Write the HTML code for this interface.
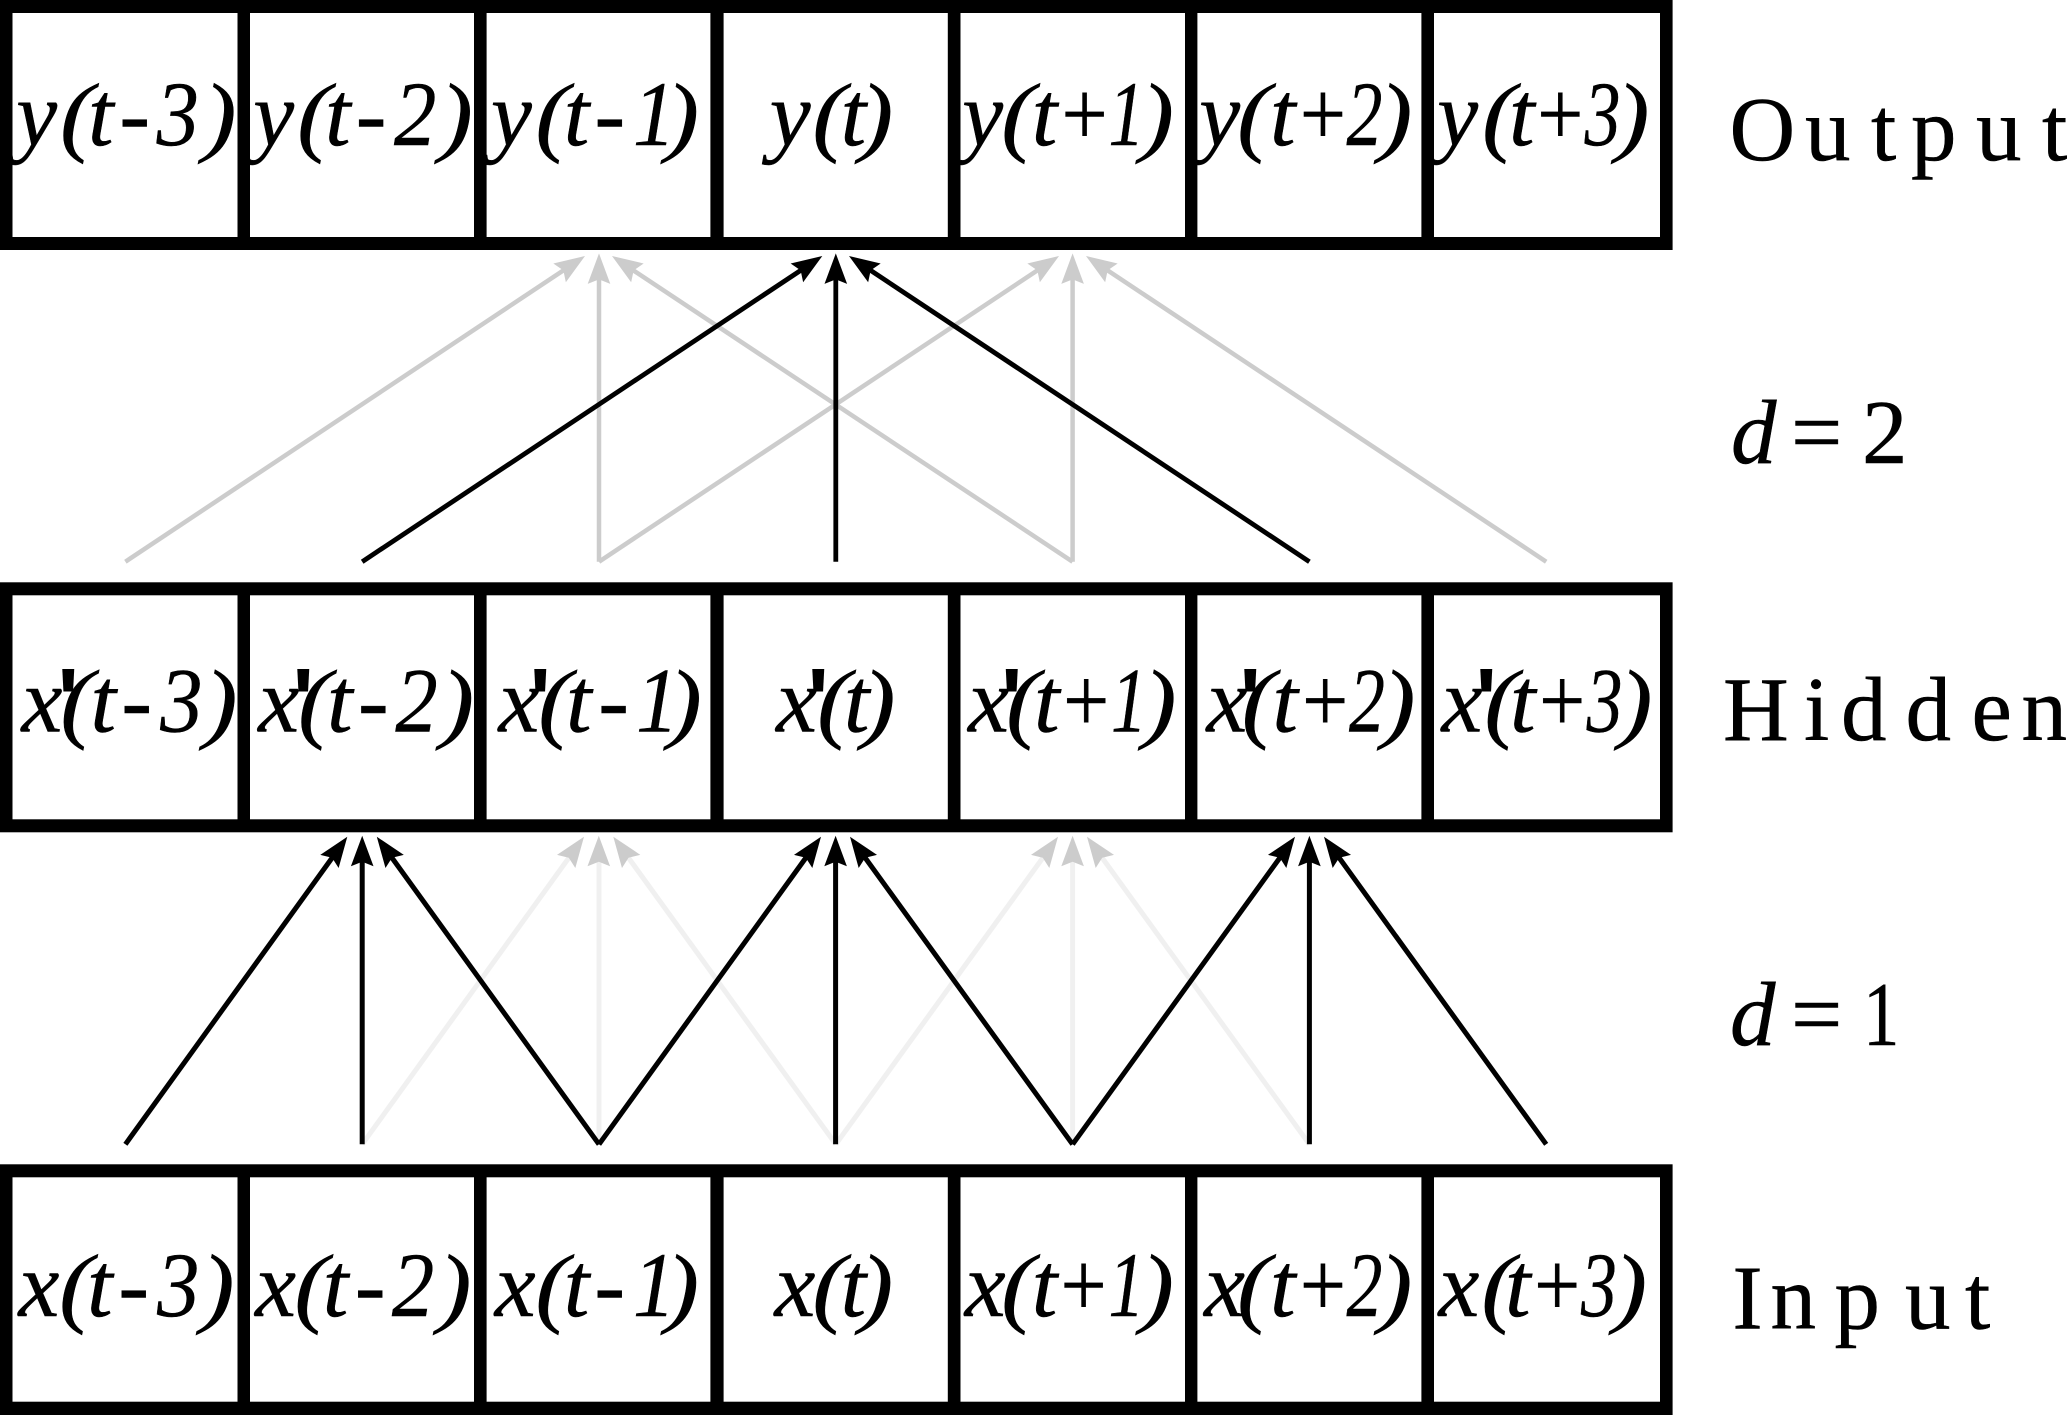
<!DOCTYPE html>
<html>
<head>
<meta charset="utf-8">
<style>
html,body{margin:0;padding:0;background:#fff;width:2067px;height:1415px;overflow:hidden}
svg{display:block}
.l text{font-family:"Liberation Serif",serif;font-style:italic;font-size:92px;fill:#000;stroke:#000;stroke-width:.5px}
.r{font-family:"Liberation Serif",serif;font-size:91px;fill:#000;stroke:#000;stroke-width:.5px}
.p{font-family:"Liberation Sans",sans-serif;font-weight:bold;font-size:90px;fill:#000}
</style>
</head>
<body>
<svg width="2067" height="1415" viewBox="0 0 2067 1415" xmlns="http://www.w3.org/2000/svg">
<defs>
<polygon id="h" points="0,0 11.3,30.5 0,26 -11.3,30.5"/>
</defs>
<rect width="2067" height="1415" fill="#fff"/>

<!-- Output row -->
<rect x="0" y="0" width="1672.6" height="250" fill="#000"/>
<g fill="#fff">
<rect x="12.5" y="13" width="225" height="224"/>
<rect x="250" y="13" width="224" height="224"/>
<rect x="486.6" y="13" width="223.8" height="224"/>
<rect x="723.6" y="13" width="224.2" height="224"/>
<rect x="960.5" y="13" width="224.5" height="224"/>
<rect x="1197.4" y="13" width="224" height="224"/>
<rect x="1434" y="13" width="226" height="224"/>
</g>
<!-- Hidden row -->
<rect x="0" y="582.3" width="1672.6" height="250" fill="#000"/>
<g fill="#fff">
<rect x="12.5" y="595.3" width="225" height="224"/>
<rect x="250" y="595.3" width="224" height="224"/>
<rect x="486.6" y="595.3" width="223.8" height="224"/>
<rect x="723.6" y="595.3" width="224.2" height="224"/>
<rect x="960.5" y="595.3" width="224.5" height="224"/>
<rect x="1197.4" y="595.3" width="224" height="224"/>
<rect x="1434" y="595.3" width="226" height="224"/>
</g>
<!-- Input row -->
<rect x="0" y="1164.3" width="1672.6" height="250.7" fill="#000"/>
<g fill="#fff">
<rect x="12.5" y="1177.3" width="225" height="224.4"/>
<rect x="250" y="1177.3" width="224" height="224.4"/>
<rect x="486.6" y="1177.3" width="223.8" height="224.4"/>
<rect x="723.6" y="1177.3" width="224.2" height="224.4"/>
<rect x="960.5" y="1177.3" width="224.5" height="224.4"/>
<rect x="1197.4" y="1177.3" width="224" height="224.4"/>
<rect x="1434" y="1177.3" width="226" height="224.4"/>
</g>

<!-- d=2 gray arrows -->
<g stroke="#ccc" stroke-width="4.5" fill="none">
<line x1="125.4" y1="561.7" x2="568.3" y2="267.1"/>
<line x1="599" y1="561.7" x2="599" y2="273"/>
<line x1="1072.6" y1="561.7" x2="628.4" y2="267.1"/>
<line x1="599" y1="561.7" x2="1042.3" y2="267.1"/>
<line x1="1072.6" y1="561.7" x2="1072.6" y2="273"/>
<line x1="1546.2" y1="561.7" x2="1102.7" y2="267.1"/>
</g>
<g fill="#ccc">
<use href="#h" transform="translate(585,256) rotate(56.4)"/>
<use href="#h" transform="translate(599,253.4)"/>
<use href="#h" transform="translate(612,256) rotate(-56.4)"/>
<use href="#h" transform="translate(1059,256) rotate(56.4)"/>
<use href="#h" transform="translate(1072.6,253.4)"/>
<use href="#h" transform="translate(1086,256) rotate(-56.4)"/>
</g>
<!-- d=2 black arrows -->
<g stroke="#000" stroke-width="4.8" fill="none">
<line x1="362.2" y1="561.7" x2="805.6" y2="267.1"/>
<line x1="835.8" y1="561.7" x2="835.8" y2="273"/>
<line x1="1309.4" y1="561.7" x2="865.7" y2="267.1"/>
</g>
<g fill="#000">
<use href="#h" transform="translate(822.3,256) rotate(56.4)"/>
<use href="#h" transform="translate(835.8,253.4)"/>
<use href="#h" transform="translate(849,256) rotate(-56.4)"/>
</g>

<!-- d=1 faint arrows -->
<g stroke="#f0f0f0" stroke-width="5" fill="none">
<line x1="362.2" y1="1144.3" x2="572.3" y2="853"/>
<line x1="599" y1="1144.3" x2="599" y2="856"/>
<line x1="835.8" y1="1144.3" x2="625" y2="853"/>
<line x1="835.8" y1="1144.3" x2="1046.3" y2="853"/>
<line x1="1072.6" y1="1144.3" x2="1072.6" y2="856"/>
<line x1="1309.4" y1="1144.3" x2="1098.7" y2="853"/>
</g>
<g fill="#ccc">
<use href="#h" transform="translate(584,836.7) rotate(35.8)"/>
<use href="#h" transform="translate(598.8,835.7)"/>
<use href="#h" transform="translate(613.3,836.7) rotate(-35.8)"/>
<use href="#h" transform="translate(1058,836.7) rotate(35.8)"/>
<use href="#h" transform="translate(1072.6,835.7)"/>
<use href="#h" transform="translate(1087,836.7) rotate(-35.8)"/>
</g>
<!-- d=1 black arrows -->
<g stroke="#000" stroke-width="5" fill="none">
<line x1="125.4" y1="1144.3" x2="335.6" y2="853"/>
<line x1="362.2" y1="1144.3" x2="362.2" y2="856"/>
<line x1="599" y1="1144.3" x2="388.5" y2="853"/>
<line x1="599" y1="1144.3" x2="809.3" y2="853"/>
<line x1="835.6" y1="1144.3" x2="835.6" y2="856"/>
<line x1="1072.6" y1="1144.3" x2="861.7" y2="853"/>
<line x1="1072.6" y1="1144.3" x2="1283.3" y2="853"/>
<line x1="1309.4" y1="1144.3" x2="1309.4" y2="856"/>
<line x1="1546.2" y1="1144.3" x2="1335.7" y2="853"/>
</g>
<g fill="#000">
<use href="#h" transform="translate(347.3,836.7) rotate(35.8)"/>
<use href="#h" transform="translate(362.2,835.7)"/>
<use href="#h" transform="translate(376.8,836.7) rotate(-35.8)"/>
<use href="#h" transform="translate(821,836.7) rotate(35.8)"/>
<use href="#h" transform="translate(835.6,835.7)"/>
<use href="#h" transform="translate(850,836.7) rotate(-35.8)"/>
<use href="#h" transform="translate(1295,836.7) rotate(35.8)"/>
<use href="#h" transform="translate(1309.4,835.7)"/>
<use href="#h" transform="translate(1324,836.7) rotate(-35.8)"/>
</g>

<!-- Output labels -->
<g class="l">
<text x="16.3" y="145">y</text><text transform="translate(60 145) scale(1.1 .97)">(</text><text y="145" x="88 119.4">t-</text><text transform="translate(156.6 145) scale(.92 1)">3</text><text transform="translate(202.8 145) scale(1.1 .97)">)</text>
<text x="253.3" y="145">y</text><text transform="translate(297.1 145) scale(1.1 .97)">(</text><text y="145" x="325 355.8">t-</text><text transform="translate(394 145) scale(.92 1)">2</text><text transform="translate(439.1 145) scale(1.1 .97)">)</text>
<text x="491" y="145">y</text><text transform="translate(535.4 145) scale(1.1 .97)">(</text><text y="145" x="563.7 594.5">t-</text><text transform="translate(633 145) scale(.92 1)">1</text><text transform="translate(665.4 145) scale(1.1 .97)">)</text>
<text x="769.7" y="145">y</text><text transform="translate(812.4 145) scale(1.1 .97)">(</text><text y="145" x="840.6">t</text><text transform="translate(859.5 145) scale(1.1 .97)">)</text>
<text x="962.3" y="145">y</text><text transform="translate(1001.2 145) scale(1.1 .97)">(</text><text y="145" x="1031.7">t</text><text transform="translate(1056.3 145) scale(.89 1)">+</text><text transform="translate(1108.5 145) scale(.78 1)">1</text><text transform="translate(1140.2 145) scale(1.1 .97)">)</text>
<text x="1199.2" y="145">y</text><text transform="translate(1237.1 145) scale(1.1 .97)">(</text><text y="145" x="1270">t</text><text transform="translate(1294.6 145) scale(.89 1)">+</text><text transform="translate(1346.5 145) scale(.78 1)">2</text><text transform="translate(1378.6 145) scale(1.1 .97)">)</text>
<text x="1437.3" y="145">y</text><text transform="translate(1482 145) scale(1.1 .97)">(</text><text y="145" x="1509">t</text><text transform="translate(1532 145) scale(.89 1)">+</text><text transform="translate(1584.6 145) scale(.78 1)">3</text><text transform="translate(1615.8 145) scale(1.1 .97)">)</text>
</g>

<!-- Hidden labels -->
<g class="l">
<text x="21.5" y="731.7">x</text><text transform="translate(60.4 731.7) scale(1.1 .97)">(</text><text y="731.7" x="90.5 121.4">t-</text><text transform="translate(160.2 731.7) scale(.92 1)">3</text><text transform="translate(203.8 731.7) scale(1.1 .97)">)</text>
<text x="258.2" y="731.7">x</text><text transform="translate(298 731.7) scale(1.1 .97)">(</text><text y="731.7" x="327 358">t-</text><text transform="translate(395.4 731.7) scale(.92 1)">2</text><text transform="translate(440.4 731.7) scale(1.1 .97)">)</text>
<text x="498.5" y="731.7">x</text><text transform="translate(538.2 731.7) scale(1.1 .97)">(</text><text y="731.7" x="566 598.2">t-</text><text transform="translate(636.1 731.7) scale(.92 1)">1</text><text transform="translate(668.1 731.7) scale(1.1 .97)">)</text>
<text x="776.1" y="731.7">x</text><text transform="translate(817.1 731.7) scale(1.1 .97)">(</text><text y="731.7" x="843.9">t</text><text transform="translate(861.8 731.7) scale(1.1 .97)">)</text>
<text x="968.1" y="731.7">x</text><text transform="translate(1006.1 731.7) scale(1.1 .97)">(</text><text y="731.7" x="1034">t</text><text transform="translate(1057.9 731.7) scale(.89 1)">+</text><text transform="translate(1111 731.7) scale(.78 1)">1</text><text transform="translate(1142.8 731.7) scale(1.1 .97)">)</text>
<text x="1206.5" y="731.7">x</text><text transform="translate(1241.8 731.7) scale(1.1 .97)">(</text><text y="731.7" x="1272.4">t</text><text transform="translate(1296.9 731.7) scale(.89 1)">+</text><text transform="translate(1349 731.7) scale(.78 1)">2</text><text transform="translate(1381.8 731.7) scale(1.1 .97)">)</text>
<text x="1441.5" y="731.7">x</text><text transform="translate(1484.4 731.7) scale(1.1 .97)">(</text><text y="731.7" x="1510">t</text><text transform="translate(1533.9 731.7) scale(.89 1)">+</text><text transform="translate(1586.6 731.7) scale(.78 1)">3</text><text transform="translate(1618.8 731.7) scale(1.1 .97)">)</text>
</g>
<g>
<text class="p" x="57.5" y="731">'</text>
<text class="p" x="292.5" y="731">'</text>
<text class="p" x="529.5" y="731">'</text>
<text class="p" x="807.5" y="731">'</text>
<text class="p" x="1001" y="731">'</text>
<text class="p" x="1239.5" y="731">'</text>
<text class="p" x="1475.5" y="731">'</text>
</g>

<!-- Input labels -->
<g class="l">
<text x="18.5" y="1316">x</text><text transform="translate(59.1 1316) scale(1.1 .97)">(</text><text y="1316" x="87 118.4">t-</text><text transform="translate(157.1 1316) scale(.92 1)">3</text><text transform="translate(200.8 1316) scale(1.1 .97)">)</text>
<text x="255.1" y="1316">x</text><text transform="translate(294.4 1316) scale(1.1 .97)">(</text><text y="1316" x="322.7 354.9">t-</text><text transform="translate(391.9 1316) scale(.92 1)">2</text><text transform="translate(437.8 1316) scale(1.1 .97)">)</text>
<text x="494.8" y="1316">x</text><text transform="translate(535.4 1316) scale(1.1 .97)">(</text><text y="1316" x="563.7 594.4">t-</text><text transform="translate(633 1316) scale(.92 1)">1</text><text transform="translate(665.4 1316) scale(1.1 .97)">)</text>
<text x="774.5" y="1316">x</text><text transform="translate(812.4 1316) scale(1.1 .97)">(</text><text y="1316" x="840.6">t</text><text transform="translate(859.5 1316) scale(1.1 .97)">)</text>
<text x="964.8" y="1316">x</text><text transform="translate(1001.2 1316) scale(1.1 .97)">(</text><text y="1316" x="1031.7">t</text><text transform="translate(1055.3 1316) scale(.89 1)">+</text><text transform="translate(1108.5 1316) scale(.78 1)">1</text><text transform="translate(1140.3 1316) scale(1.1 .97)">)</text>
<text x="1204.1" y="1316">x</text><text transform="translate(1237.1 1316) scale(1.1 .97)">(</text><text y="1316" x="1270">t</text><text transform="translate(1294.6 1316) scale(.89 1)">+</text><text transform="translate(1346.5 1316) scale(.78 1)">2</text><text transform="translate(1378.6 1316) scale(1.1 .97)">)</text>
<text x="1438.5" y="1316">x</text><text transform="translate(1481.4 1316) scale(1.1 .97)">(</text><text y="1316" x="1505">t</text><text transform="translate(1528.9 1316) scale(.89 1)">+</text><text transform="translate(1581 1316) scale(.78 1)">3</text><text transform="translate(1613.4 1316) scale(1.1 .97)">)</text>
</g>

<!-- Right labels -->
<text class="r" y="160" x="1729.5 1805 1871 1911 1976 2042">Output</text>
<text class="r" y="740" x="1723 1804 1841 1905.5 1971.5 2021.5">Hidden</text>
<text class="r" y="1328.6" x="1732.4 1770.5 1834.5 1905 1965">Input</text>
<text class="r" y="463"><tspan font-style="italic" x="1731">d</tspan><tspan x="1791">=</tspan><tspan x="1862">2</tspan></text>
<text class="r" y="1045"><tspan font-style="italic" x="1730">d</tspan><tspan x="1791">=</tspan></text>
<text class="r" transform="translate(1863 1045) scale(.8 1)">1</text>
</svg>
</body>
</html>
